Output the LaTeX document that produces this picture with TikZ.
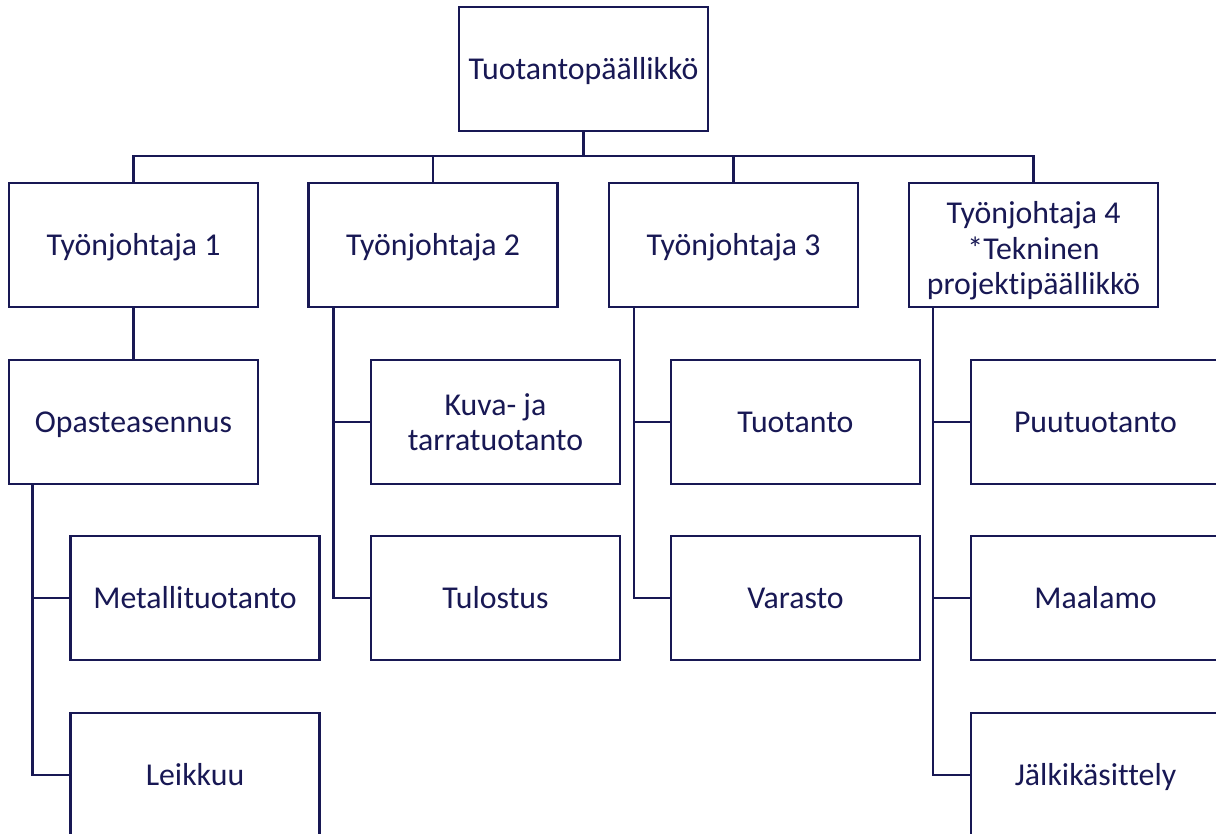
\documentclass[tikz,border=0pt]{standalone}
\usepackage{fontspec}
\setmainfont{Carlito}[Ligatures=NoCommon]
\usetikzlibrary{positioning}
\definecolor{navy}{RGB}{24,24,84}

\begin{document}
\begin{tikzpicture}[x=0.5pt,y=-0.5pt,
    line width=1.2pt, draw=navy, text=navy,
    unit/.style={rectangle,draw=navy,fill=white,minimum width=124.5pt,minimum height=62pt,
        align=center,inner sep=2pt,font=\fontsize{15.9}{17.8}\selectfont},
    oneline/.style={unit,text height=13.2pt,text depth=3pt}]

    % page size, boxes at the edges are cut
    \useasboundingbox (0,0) rectangle (1216,834);
    \clip (0,0) rectangle (1216,834);

    % production manager
    \node[oneline] (boss) at (583.5,69) {Tuotantopäällikkö};
    \coordinate (bus) at (583.5,156);

    % foremen
    \node[oneline] (tj1) at (133.5,245) {Työnjohtaja 1};
    \node[oneline] (tj2) at (433,245) {Työnjohtaja 2};
    \node[oneline] (tj3) at (733.5,245) {Työnjohtaja 3};
    \node[unit,text height=53pt,text depth=3pt] (tj4) at (1033.5,245) {Työnjohtaja 4\\*Tekninen\\projektipäällikkö};

    \draw[draw=navy] (boss.south) -- (bus);
    \draw[draw=navy] (tj1.north) |- (bus) -| (tj4.north);
    \draw[draw=navy] (tj2.north) -- (tj2.north |- bus);
    \draw[draw=navy] (tj3.north) -- (tj3.north |- bus);

    %%%%%%%%%%%%%%%%%%%%%%%%%%%%%%%%%%%%%%%%%%%%%%%%%%%%%%

    % foreman 1
    \node[oneline] (opas) at (133.5,422) {Opasteasennus};
    \node[oneline] (metalli) at (195,598) {Metallituotanto};
    \node[oneline] (leikkuu) at (195,775) {Leikkuu};
    \draw[draw=navy] (tj1.south) -- (opas.north);
    \draw[draw=navy] ([xshift=12.25pt]opas.south west) |- (metalli.west);
    \draw[draw=navy] ([xshift=12.25pt]opas.south west) |- (leikkuu.west);

    % foreman 2
    \node[unit] (kuva) at (495.5,422) {Kuva- ja\\tarratuotanto};
    \node[oneline] (tulostus) at (495.5,598) {Tulostus};
    \draw[draw=navy] ([xshift=13pt]tj2.south west) |- (kuva.west);
    \draw[draw=navy] ([xshift=13pt]tj2.south west) |- (tulostus.west);

    % foreman 3
    \node[oneline] (tuotanto) at (795.5,422) {Tuotanto};
    \node[oneline] (varasto) at (795.5,598) {Varasto};
    \draw[draw=navy] ([xshift=13pt]tj3.south west) |- (tuotanto.west);
    \draw[draw=navy] ([xshift=13pt]tj3.south west) |- (varasto.west);

    % foreman 4
    \node[oneline] (puu) at (1095.5,422) {Puutuotanto};
    \node[oneline] (maalamo) at (1095.5,598) {Maalamo};
    \node[oneline] (jalki) at (1095.5,775) {Jälkikäsittely};
    \draw[draw=navy] ([xshift=12.5pt]tj4.south west) |- (puu.west);
    \draw[draw=navy] ([xshift=12.5pt]tj4.south west) |- (maalamo.west);
    \draw[draw=navy] ([xshift=12.5pt]tj4.south west) |- (jalki.west);

\end{tikzpicture}
\end{document}
